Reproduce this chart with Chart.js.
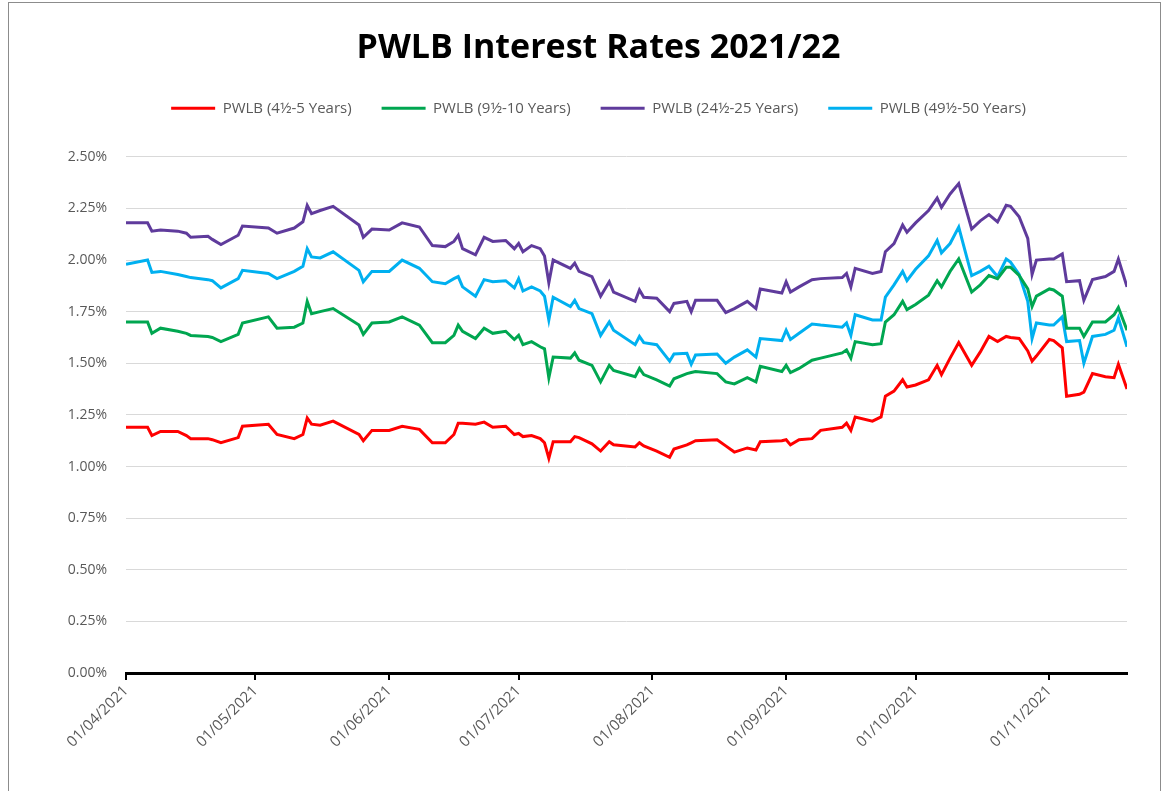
<!DOCTYPE html>
<html>
<head>
<meta charset="utf-8">
<script src="https://cdn.jsdelivr.net/npm/chart.js@4.4.1/dist/chart.umd.min.js"></script>
<style>
  body { margin: 0; background: #fff; }
  #wrap { position: relative; width: 1163px; height: 791px; }
  #frame { position: absolute; left: 8px; top: 2px; width: 1151px; height: 800px; border: 1px solid #8c8c8c; pointer-events: none; }
</style>
</head>
<body>
<div id="wrap">
  <canvas id="rateChart"></canvas>
  <div id="frame"></div>
</div>
<script>
// days since 01/04/2021
const days = [0, 5, 6, 8, 12, 14, 15, 19, 20, 22, 26, 27, 33, 35, 39, 41, 42, 43, 45, 48,
  54, 55, 57, 61, 64, 68, 71, 74, 76, 77, 78, 81, 83, 85, 88, 90, 91, 92, 94, 96,
  97, 98, 99, 103, 104, 105, 108, 110, 112, 113, 118, 119, 120, 123, 126, 127, 130, 131, 132, 137,
  139, 141, 144, 146, 147, 152, 153, 154, 156, 159, 161, 166, 167, 168, 169, 173, 175, 176, 178, 180,
  181, 183, 186, 188, 189, 191, 193, 196, 198, 200, 202, 204, 205, 207, 209, 210, 211, 214, 215, 217,
  218, 221, 222, 224, 227, 229, 230, 232];

const rate5 = [1.19, 1.19, 1.15, 1.17, 1.17, 1.15, 1.135, 1.135, 1.13, 1.115, 1.14, 1.195, 1.205, 1.155, 1.135, 1.155, 1.235, 1.205, 1.20, 1.22,
  1.155, 1.125, 1.175, 1.175, 1.195, 1.18, 1.115, 1.115, 1.155, 1.21, 1.21, 1.205, 1.215, 1.19, 1.195, 1.155, 1.16, 1.145, 1.15, 1.135,
  1.115, 1.04, 1.12, 1.12, 1.145, 1.14, 1.11, 1.075, 1.12, 1.105, 1.095, 1.115, 1.10, 1.075, 1.045, 1.085, 1.105, 1.115, 1.125, 1.13,
  1.10, 1.07, 1.09, 1.08, 1.12, 1.125, 1.13, 1.105, 1.13, 1.135, 1.175, 1.19, 1.21, 1.175, 1.24, 1.22, 1.24, 1.34, 1.365, 1.42,
  1.385, 1.395, 1.42, 1.49, 1.445, 1.525, 1.60, 1.49, 1.555, 1.63, 1.605, 1.63, 1.625, 1.62, 1.56, 1.51, 1.535, 1.615, 1.61, 1.575,
  1.34, 1.35, 1.36, 1.45, 1.435, 1.43, 1.495, 1.375];

const rate10 = [1.70, 1.70, 1.645, 1.67, 1.655, 1.645, 1.635, 1.63, 1.625, 1.605, 1.64, 1.695, 1.725, 1.67, 1.675, 1.695, 1.80, 1.74, 1.75, 1.765,
  1.685, 1.64, 1.695, 1.70, 1.725, 1.685, 1.60, 1.60, 1.635, 1.685, 1.655, 1.62, 1.67, 1.645, 1.655, 1.615, 1.635, 1.59, 1.605, 1.58,
  1.57, 1.43, 1.53, 1.525, 1.55, 1.515, 1.49, 1.41, 1.49, 1.465, 1.435, 1.475, 1.445, 1.42, 1.39, 1.425, 1.45, 1.455, 1.46, 1.45,
  1.41, 1.40, 1.43, 1.41, 1.485, 1.46, 1.49, 1.455, 1.475, 1.515, 1.525, 1.55, 1.565, 1.525, 1.605, 1.59, 1.595, 1.70, 1.735, 1.80,
  1.76, 1.785, 1.83, 1.90, 1.87, 1.945, 2.005, 1.845, 1.88, 1.925, 1.91, 1.965, 1.965, 1.925, 1.86, 1.775, 1.825, 1.86, 1.855, 1.825,
  1.67, 1.67, 1.63, 1.70, 1.70, 1.735, 1.77, 1.66];

const rate25 = [2.18, 2.18, 2.14, 2.145, 2.14, 2.13, 2.11, 2.115, 2.10, 2.075, 2.12, 2.165, 2.155, 2.13, 2.155, 2.185, 2.265, 2.225, 2.24, 2.26,
  2.17, 2.11, 2.15, 2.145, 2.18, 2.16, 2.07, 2.065, 2.09, 2.12, 2.055, 2.025, 2.11, 2.09, 2.095, 2.055, 2.08, 2.04, 2.07, 2.055,
  2.02, 1.89, 2.00, 1.96, 1.985, 1.945, 1.92, 1.825, 1.895, 1.845, 1.80, 1.855, 1.82, 1.815, 1.75, 1.79, 1.80, 1.75, 1.805, 1.805,
  1.745, 1.765, 1.80, 1.765, 1.86, 1.84, 1.895, 1.845, 1.87, 1.905, 1.91, 1.915, 1.935, 1.87, 1.96, 1.935, 1.945, 2.04, 2.08, 2.17,
  2.135, 2.18, 2.24, 2.30, 2.255, 2.32, 2.37, 2.15, 2.19, 2.22, 2.185, 2.265, 2.26, 2.21, 2.105, 1.93, 2.00, 2.005, 2.005, 2.03,
  1.895, 1.90, 1.805, 1.905, 1.92, 1.945, 2.005, 1.87];

const rate50 = [1.98, 2.00, 1.94, 1.945, 1.93, 1.92, 1.915, 1.905, 1.90, 1.865, 1.91, 1.95, 1.935, 1.91, 1.945, 1.97, 2.055, 2.015, 2.01, 2.04,
  1.95, 1.895, 1.945, 1.945, 2.00, 1.96, 1.895, 1.885, 1.91, 1.92, 1.87, 1.825, 1.905, 1.895, 1.90, 1.865, 1.91, 1.85, 1.87, 1.85,
  1.825, 1.71, 1.82, 1.775, 1.805, 1.765, 1.74, 1.635, 1.70, 1.66, 1.59, 1.63, 1.60, 1.59, 1.51, 1.545, 1.548, 1.495, 1.54, 1.545,
  1.50, 1.53, 1.565, 1.53, 1.62, 1.61, 1.66, 1.615, 1.645, 1.69, 1.685, 1.675, 1.695, 1.635, 1.735, 1.71, 1.71, 1.82, 1.88, 1.945,
  1.90, 1.955, 2.02, 2.095, 2.035, 2.08, 2.16, 1.925, 1.945, 1.97, 1.92, 2.005, 1.99, 1.93, 1.80, 1.62, 1.695, 1.685, 1.685, 1.725,
  1.605, 1.61, 1.50, 1.63, 1.64, 1.66, 1.72, 1.58];

const seriesNames = ['PWLB (4½-5 Years)', 'PWLB (9½-10 Years)', 'PWLB (24½-25 Years)', 'PWLB (49½-50 Years)'];
const seriesColors = ['#ff0000', '#00a650', '#5f3b9c', '#00b0f0'];

const monthStarts = [0, 30, 61, 91, 122, 153, 183, 214];
const monthLabels = ['01/04/2021', '01/05/2021', '01/06/2021', '01/07/2021', '01/08/2021', '01/09/2021', '01/10/2021', '01/11/2021'];

const font = '"Open Sans", "Liberation Sans", sans-serif';

function pts(vals) {
    return vals.map((v, i) => ({ x: days[i], y: v }));
}

const allRates = [rate5, rate10, rate25, rate50];
const datasets = allRates.map((r, i) => ({
    label: seriesNames[i],
    data: pts(r),
    borderColor: seriesColors[i],
    backgroundColor: seriesColors[i],
    borderWidth: 3,
    pointRadius: 0,
    tension: 0
}));

// extra room below the legend, and title/legend centred a bit right of the canvas middle
const headerShift = {
    id: 'headerShift',
    beforeInit(chart) {
        const fit = chart.legend.fit;
        chart.legend.fit = function () {
            fit.bind(chart.legend)();
            this.height += 31;
        };
    },
    afterLayout(chart) {
        chart.titleBlock.left += 70;
        chart.legend.left += 70;
    }
};

const ctx = document.getElementById('rateChart').getContext('2d');
const rateChart = new Chart(ctx, {
    type: 'line',
    data: { datasets: datasets },
    plugins: [headerShift],
    options: {
        responsive: true,
        maintainAspectRatio: false,
        animation: false,
        layout: { padding: { left: 0, right: 36, top: 0, bottom: 0 } },
        plugins: {
            title: {
                display: true,
                text: 'PWLB Interest Rates 2021/22',
                color: '#000',
                font: { family: font, size: 34, weight: 'bold' },
                padding: { top: 28, bottom: 2 }
            },
            legend: {
                labels: {
                    boxWidth: 44,
                    boxHeight: 3,
                    padding: 30,
                    color: '#595959',
                    font: { family: font, size: 15 },
                    generateLabels: (chart) => chart.data.datasets.map((ds, i) => ({
                        text: ds.label,
                        fillStyle: ds.borderColor,
                        strokeStyle: ds.borderColor,
                        lineWidth: 0,
                        fontColor: '#595959',
                        datasetIndex: i
                    }))
                }
            },
            tooltip: { enabled: false }
        },
        scales: {
            x: {
                type: 'linear',
                min: 0,
                max: 232,
                afterBuildTicks: (scale) => {
                    scale.ticks = monthStarts.map(v => ({ value: v }));
                },
                afterFit: (scale) => { scale.height = 118; },
                ticks: {
                    autoSkip: false,
                    minRotation: 45,
                    maxRotation: 45,
                    color: '#595959',
                    font: { family: font, size: 15 },
                    padding: 2,
                    callback: (v) => monthLabels[monthStarts.indexOf(v)]
                },
                grid: {
                    drawOnChartArea: false,
                    drawTicks: true,
                    tickLength: 7,
                    color: '#000',
                    lineWidth: 2
                },
                border: { display: true, color: '#000', width: 3 }
            },
            y: {
                min: 0,
                max: 2.5,
                afterFit: (scale) => { scale.width = 126; },
                ticks: {
                    stepSize: 0.25,
                    color: '#595959',
                    font: { family: font, size: 14 },
                    padding: 19,
                    callback: (v) => v.toFixed(2) + '%'
                },
                grid: { color: '#d9d9d9', lineWidth: 1, drawTicks: false },
                border: { display: false }
            }
        }
    }
});
</script>
</body>
</html>
